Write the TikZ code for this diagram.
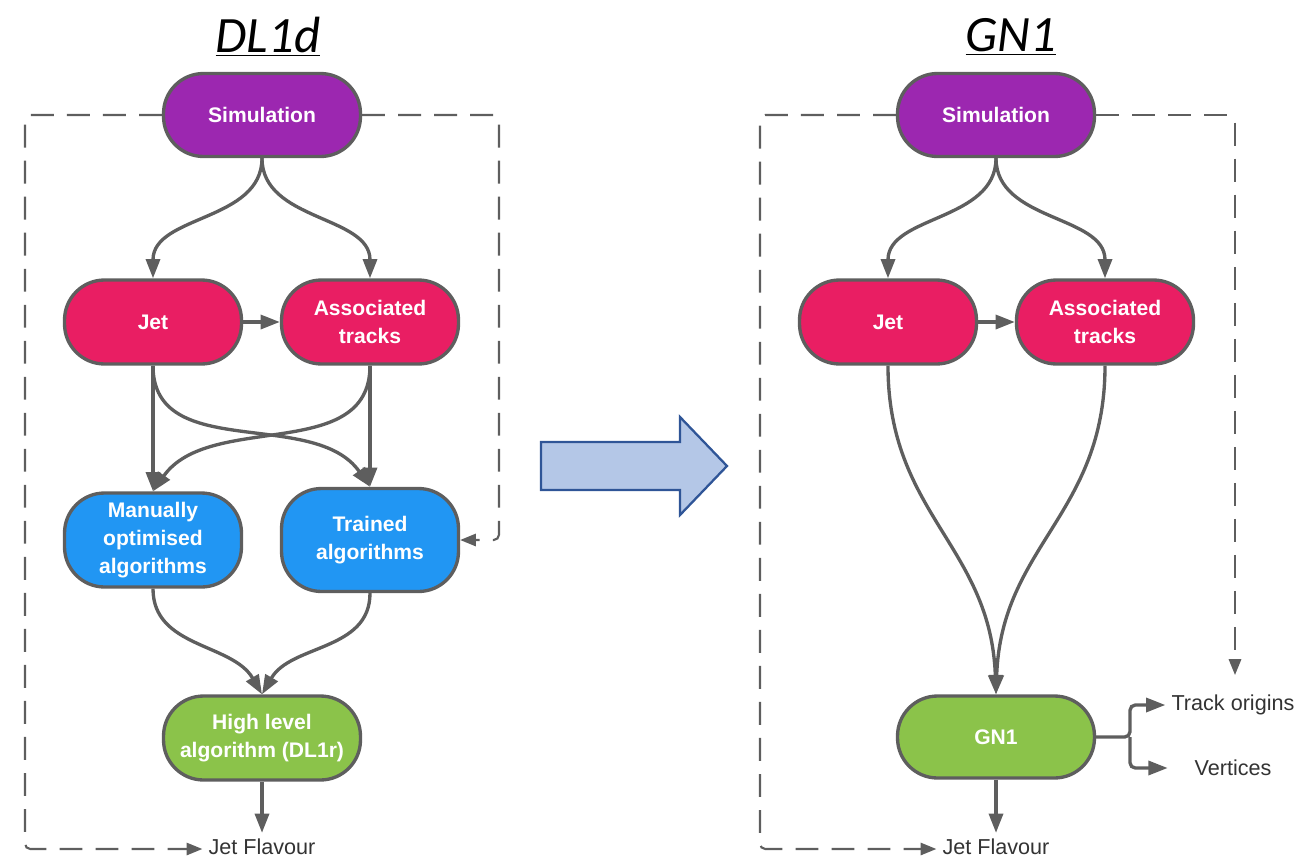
\documentclass[tikz,border=0pt]{standalone}
\usepackage{fontspec}
\setmainfont{Liberation Sans}
\newfontfamily\titlefont{Carlito}
\usepackage{xcolor}
\usepackage{tikz}
\usetikzlibrary{arrows.meta,positioning,calc}

\definecolor{simcol}{HTML}{9C27B0}
\definecolor{inpcol}{HTML}{E91E63}
\definecolor{algcol}{HTML}{2196F3}
\definecolor{outcol}{HTML}{8BC34A}
\definecolor{edgecol}{HTML}{5E5E5E}
\definecolor{bigfill}{HTML}{B4C7E7}
\definecolor{bigdraw}{HTML}{2F5597}

\begin{document}
\begin{tikzpicture}[x=0.02cm, y=-0.02cm,
    box/.style={draw=edgecol, line width=1.9pt, rounded corners=0.8cm,
        text=white, align=center, inner sep=2pt,
        font=\fontsize{12}{16}\selectfont\bfseries},
    wide/.style={box, minimum width=3.94cm, minimum height=1.66cm},
    narrow/.style={box, minimum width=3.54cm, minimum height=1.68cm},
    arr/.style={draw=edgecol, line width=1.9pt,
        -{Triangle[length=11pt, width=8pt]}},
    dashline/.style={draw=edgecol, line width=1.2pt, dash pattern=on 13pt off 7.5pt,
        rounded corners=3pt, -{Triangle[length=9pt, width=7pt]}},
    plain/.style={font=\fontsize{12.3}{14}\selectfont, text=black!80},
    heading/.style={font=\titlefont\itshape\fontsize{29}{32}\selectfont}]

    \useasboundingbox (0,0) rectangle (1302,859);

    % --- DL1d ---
    \node[heading] (title1) at (268,37) {\underline{DL1d}};
    \node[wide, fill=simcol] (sim1) at (262,115) {Simulation};
    \node[narrow, fill=inpcol] (jet1) at (153,322) {Jet};
    \node[narrow, fill=inpcol] (trk1) at (370,322) {Associated\\tracks};
    \node[narrow, fill=algcol, minimum height=1.88cm] (man1) at (153,540)
        {Manually\\optimised\\algorithms};
    \node[narrow, fill=algcol, minimum height=2.06cm] (trn1) at (370,540)
        {Trained\\algorithms};
    \node[wide, fill=outcol, minimum height=1.68cm] (hl1) at (262,738)
        {High level\\algorithm (DL1r)};
    \node[plain] (jf1) at (262,847) {Jet Flavour};

    \draw[arr] (sim1.south) to[out=-90, in=90] (jet1.north);
    \draw[arr] (sim1.south) to[out=-90, in=90] (trk1.north);
    \draw[arr] (jet1.east) -- (trk1.west);
    \draw[arr] (jet1.south) -- (man1.north);
    \draw[arr] (trk1.south) -- (trn1.north);
    \draw[arr] (jet1.south) to[out=-90, in=125] (trn1.north);
    \draw[arr] (trk1.south) to[out=-90, in=55] (man1.north);
    \draw[arr] (man1.south) to[out=-90, in=120] (hl1.north);
    \draw[arr] (trn1.south) to[out=-90, in=60] (hl1.north);
    \draw[arr] (hl1.south) -- (jf1.north);

    \coordinate (l1) at (25,849);
    \coordinate (r1) at (499,540);
    \draw[dashline] (sim1.west) -| (l1) -- (jf1.west |- l1);
    \draw[dashline] (sim1.east) -| (r1) -- (trn1.east);

    % big arrow
    \draw[fill=bigfill, draw=bigdraw, line width=1.3pt]
        (541,442) -- (680,442) -- (680,417) -- (727,466)
        -- (680,515) -- (680,490) -- (541,490) -- cycle;

    % --- GN1 ---
    \node[heading] (title2) at (1011,37) {\underline{GN1}};
    \node[wide, fill=simcol] (sim2) at (996,115) {Simulation};
    \node[narrow, fill=inpcol] (jet2) at (888,322) {Jet};
    \node[narrow, fill=inpcol] (trk2) at (1105,322) {Associated\\tracks};
    \node[wide, fill=outcol, minimum height=1.64cm] (gn) at (996,737) {GN1};
    \node[plain] (jf2) at (996,847) {Jet Flavour};
    \node[plain, minimum width=2.6cm] (orig) at (1233,705) {Track origins};
    \node[plain, minimum width=2.6cm] (vtx) at (1233,768) {Vertices};

    \draw[arr] (sim2.south) to[out=-90, in=90] (jet2.north);
    \draw[arr] (sim2.south) to[out=-90, in=90] (trk2.north);
    \draw[arr] (jet2.east) -- (trk2.west);
    \draw[arr] (jet2.south) to[out=-90, in=92, looseness=1.1] (gn.north);
    \draw[arr] (trk2.south) to[out=-90, in=88, looseness=1.1] (gn.north);
    \draw[arr] (gn.south) -- (jf2.north);

    \coordinate (br) at (1130,737);
    \draw[arr, rounded corners=3pt] (gn.east) -- (br) |- (orig.west);
    \draw[arr, rounded corners=3pt] (br) |- (vtx.west);

    \coordinate (l2) at (760,849);
    \coordinate (r2) at (1235,675);
    \draw[dashline] (sim2.west) -| (l2) -- (jf2.west |- l2);
    \draw[dashline] (sim2.east) -| (r2);
\end{tikzpicture}
\end{document}
